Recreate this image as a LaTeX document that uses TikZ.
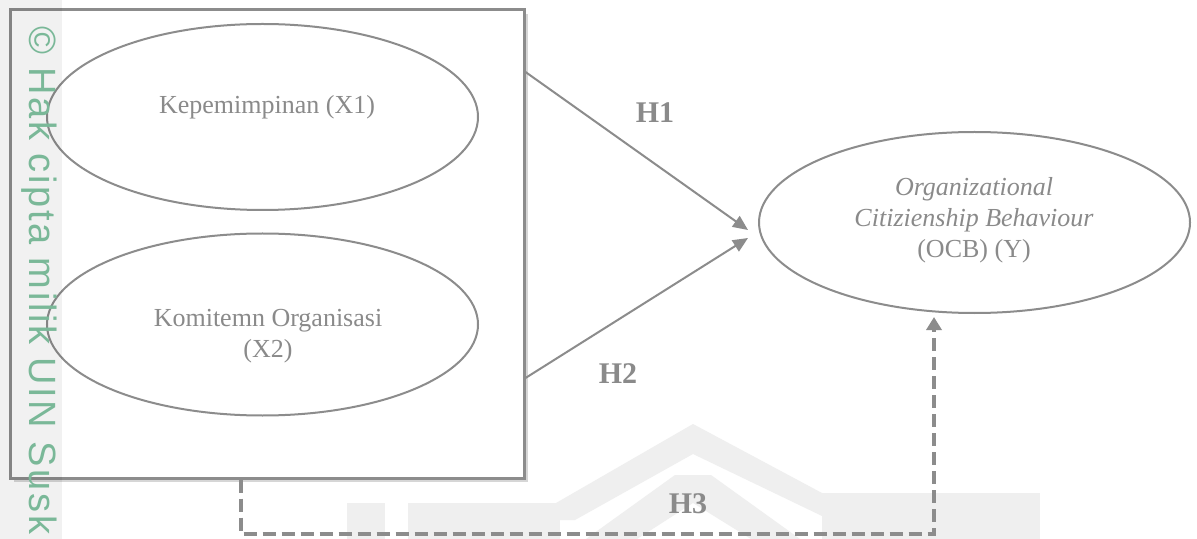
\documentclass[tikz,border=0pt]{standalone}
\usepackage{fontspec}
\setmainfont{Liberation Serif}
\newfontfamily\wmfont[LetterSpace=7]{Liberation Sans}
\usetikzlibrary{shapes.geometric,arrows.meta}

\definecolor{inkgray}{HTML}{8C8C8C}
\definecolor{txtgray}{HTML}{8A8A8A}
\definecolor{wmgreen}{RGB}{122,184,152}
\definecolor{logogray}{HTML}{EFEFEF}
\definecolor{shadowgray}{HTML}{D6D6D6}

\tikzset{
  latent/.style={ellipse, draw=inkgray, line width=1pt, inner sep=0pt},
  grpbox/.style={rectangle, draw=inkgray, line width=1.5pt, inner sep=0pt,
                 minimum width=257pt, minimum height=234pt},
  label/.style={text=txtgray, font=\fontsize{13}{15.5}\selectfont, align=center, inner sep=0pt},
  hyp/.style={text=txtgray, font=\fontsize{15}{18}\selectfont\bfseries, inner sep=0pt},
  path/.style={draw=inkgray, line width=1pt,
               -{Triangle[length=7.5pt,width=6.5pt]}},
  dashpath/.style={draw=inkgray, line width=2pt, dash pattern=on 6.5pt off 3pt,
               -{Triangle[length=6.5pt,width=7.5pt]}},
}

\begin{document}
\begin{tikzpicture}[x=0.5pt,y=-0.5pt]
\useasboundingbox (0,0) rectangle (1197,539);
\fill[white] (0,0) rectangle (1197,539);

% faint emblem in the background
\fill[logogray] (347,503) rectangle (385,539);
\fill[logogray] (408,503) rectangle (560,539);
\fill[logogray] (822,493) rectangle (1040,539);
\fill[logogray] (556,503) -- (693,424) -- (822,493) -- (822,516) -- (693,454) -- (575,520) -- (560,520) -- cycle;
\fill[logogray] (675,475) -- (711,475) -- (800,539) -- (751,539) -- (693,503) -- (637,539) -- (586,539) -- cycle;

% group frame with a soft shadow
\draw[shadowgray, line width=1pt] (14,481) -- (527,481) -- (527,14);
\node[grpbox] (grp) at (267,244) {};

% constructs
\node[latent, minimum width=215.5pt, minimum height=93pt] (x1) at (262.5,117) {};
\node[latent, minimum width=215.5pt, minimum height=91pt] (x2) at (262.5,324.5) {};
\node[latent, minimum width=215.5pt, minimum height=90.5pt] (y) at (974.5,222.5) {};

\node[label] (x1t) at (267,107) {Kepemimpinan (X1)};
\node[label] (x2t) at (268,336) {Komitemn Organisasi\\(X2)};
\node[label] (yt) at (974,220) {\itshape Organizational\\\itshape Citizienship Behaviour\\(OCB) (Y)};

% hypothesis paths
\coordinate (tip1) at (748,230);
\coordinate (tip2) at (748,238);
\coordinate (s1) at (525,72);
\coordinate (s2) at (525,378);
\draw[path] (grp.east |- s1) -- (tip1);
\draw[path] (grp.east |- s2) -- (tip2);

\coordinate (d1) at (241,534);
\coordinate (d2) at (934,534);
\draw[dashpath] (grp.south -| d1) -- (d1) -- (d2) -- ([yshift=-1.5pt]d2 |- y.south);

\node[hyp] (h1) at (655,113) {H1};
\node[hyp] (h2) at (618,374) {H2};
\node[hyp] (h3) at (688,504) {H3};

% copyright strip along the left edge
\fill[black, fill opacity=0.055] (0,0) rectangle (62,539);
\node[text=wmgreen, rotate=-90, anchor=base west, inner sep=0pt,
      font=\wmfont\fontsize{19}{19}\selectfont] (wm) at (29,26)
      {\textcopyright{} Hak cipta milik UIN Susk};
\end{tikzpicture}
\end{document}
